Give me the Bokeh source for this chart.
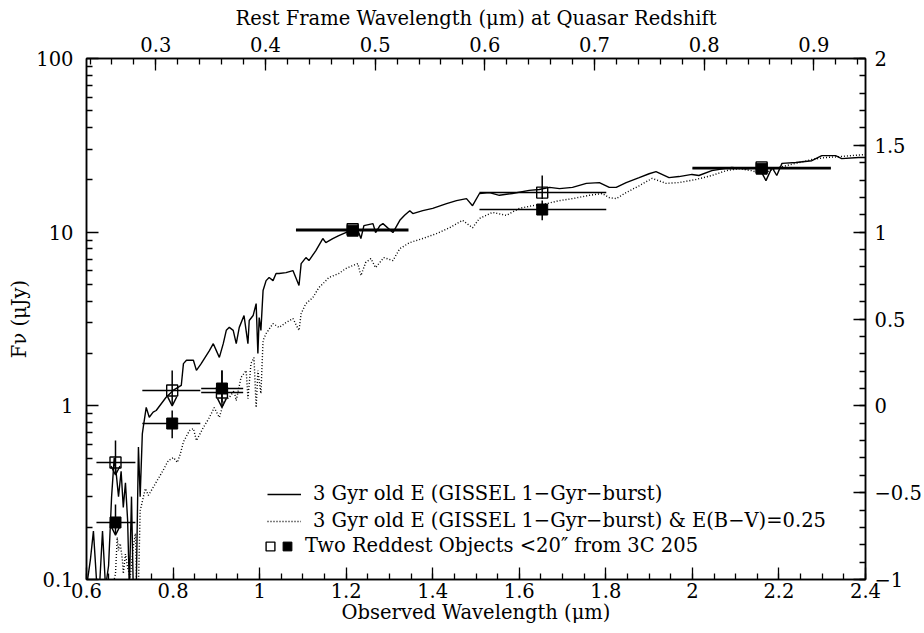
import numpy as np
from bokeh.plotting import figure
from bokeh.models import (Range1d, LinearAxis, LinearScale, FixedTicker,
                          CustomJSTickFormatter, ColumnDataSource,
                          Arrow, OpenHead, Legend, LegendItem)
from bokeh.embed import file_html
from bokeh.resources import INLINE

FONT = "DejaVu Serif"
FSIZE = "19.5px"
Z_QSO = 1.534

x_lim = (0.6, 2.4)
y_lim = (0.1, 100.0)

# ---- model spectra (observed wavelength in micron, flux in microJy) ----
solid_wave = [0.600, 0.609, 0.616, 0.623, 0.630, 0.637, 0.644, 0.651, 0.658, 0.664,
              0.669, 0.674, 0.680, 0.685, 0.690, 0.695, 0.699, 0.704, 0.708, 0.715,
              0.720, 0.724, 0.729, 0.731, 0.738, 0.745, 0.754, 0.761, 0.784, 0.801,
              0.819, 0.824, 0.831, 0.847, 0.854, 0.865, 0.884, 0.893, 0.900, 0.907,
              0.916, 0.923, 0.930, 0.939, 0.946, 0.953, 0.964, 0.973, 0.976, 0.985,
              0.992, 0.996, 0.999, 1.003, 1.008, 1.015, 1.022, 1.031, 1.038, 1.045,
              1.061, 1.077, 1.091, 1.096, 1.107, 1.114, 1.130, 1.146, 1.153, 1.169,
              1.183, 1.199, 1.215, 1.229, 1.234, 1.241, 1.262, 1.268, 1.278, 1.285,
              1.308, 1.324, 1.335, 1.347, 1.354, 1.377, 1.400, 1.432, 1.455, 1.478,
              1.492, 1.508, 1.531, 1.554, 1.584, 1.623, 1.646, 1.670, 1.693, 1.723,
              1.755, 1.785, 1.808, 1.824, 1.847, 1.877, 1.900, 1.916, 1.946, 1.969,
              1.999, 2.015, 2.045, 2.091, 2.124, 2.154, 2.170, 2.184, 2.195, 2.207,
              2.239, 2.276, 2.299, 2.331, 2.345, 2.384, 2.400]
solid_flux = [0.09, 0.13, 0.19, 0.10, 0.09, 0.19, 0.09, 0.12, 0.30, 0.50,
              0.40, 0.30, 0.42, 0.26, 0.36, 0.22, 0.09, 0.30, 0.09, 0.09,
              0.58, 0.30, 0.69, 0.75, 0.98, 0.86, 0.92, 0.94, 1.12, 1.23,
              1.31, 1.75, 1.83, 1.83, 1.60, 1.75, 2.08, 2.28, 2.08, 1.90,
              2.28, 2.72, 2.83, 2.72, 2.28, 2.83, 3.31, 2.28, 3.10, 3.31,
              3.88, 2.00, 3.22, 2.72, 4.61, 5.26, 5.48, 5.26, 5.78, 5.78,
              5.85, 6.01, 4.93, 6.59, 7.14, 6.86, 7.83, 9.19, 8.71, 9.19,
              9.55, 9.95, 10.2, 9.95, 9.19, 10.9, 11.2, 9.95, 10.9, 11.2,
              9.95, 11.7, 12.5, 13.3, 12.8, 13.3, 13.7, 14.6, 15.2, 15.6,
              14.2, 16.7, 16.9, 16.3, 16.7, 17.4, 17.6, 18.1, 17.8, 18.1,
              19.1, 19.3, 18.1, 18.1, 19.3, 20.6, 21.7, 22.3, 20.6, 20.9,
              21.5, 21.2, 22.6, 23.6, 23.2, 23.6, 19.8, 23.6, 21.2, 24.9,
              25.2, 25.8, 27.6, 27.6, 26.5, 26.9, 26.9]

dotted_wave = [0.655, 0.667, 0.671, 0.674, 0.678, 0.683, 0.685, 0.690, 0.695, 0.701,
               0.708, 0.713, 0.716, 0.720, 0.724, 0.736, 0.743, 0.754, 0.777, 0.789,
               0.801, 0.810, 0.817, 0.824, 0.838, 0.847, 0.854, 0.870, 0.884, 0.895,
               0.907, 0.918, 0.930, 0.941, 0.946, 0.957, 0.969, 0.973, 0.980, 0.987,
               0.992, 0.996, 1.003, 1.008, 1.015, 1.031, 1.045, 1.061, 1.077, 1.091,
               1.096, 1.107, 1.123, 1.137, 1.149, 1.160, 1.183, 1.199, 1.215, 1.227,
               1.234, 1.245, 1.257, 1.268, 1.287, 1.308, 1.324, 1.347, 1.377, 1.409,
               1.439, 1.469, 1.492, 1.508, 1.538, 1.570, 1.600, 1.630, 1.663, 1.693,
               1.723, 1.762, 1.792, 1.808, 1.824, 1.847, 1.877, 1.907, 1.939, 1.969,
               2.008, 2.045, 2.078, 2.107, 2.137, 2.160, 2.200, 2.239, 2.276, 2.308,
               2.338, 2.368, 2.400]
dotted_flux = [0.08, 0.108, 0.175, 0.147, 0.161, 0.129, 0.108, 0.14, 0.117, 0.103,
               0.153, 0.184, 0.09, 0.09, 0.249, 0.334, 0.305, 0.339, 0.425, 0.484,
               0.504, 0.472, 0.531, 0.62, 0.721, 0.740, 0.631, 0.750, 0.857, 0.977,
               0.857, 1.072, 1.116, 1.225, 1.072, 1.455, 1.597, 1.101, 1.753, 1.897,
               0.977, 1.597, 1.177, 2.377, 2.606, 2.977, 2.827, 3.018, 3.184, 2.715,
               3.40, 3.88, 4.20, 4.80, 5.13, 5.48, 5.78, 6.17, 6.42, 6.59,
               5.62, 6.68, 7.05, 6.25, 7.14, 6.86, 8.04, 8.71, 9.19, 9.82,
               10.6, 11.7, 10.6, 12.0, 13.0, 12.5, 13.7, 14.2, 14.6, 15.2,
               15.6, 16.3, 16.7, 15.8, 15.6, 16.9, 18.5, 20.4, 19.1, 19.3,
               20.1, 21.2, 22.6, 23.2, 22.6, 21.7, 23.6, 24.9, 26.2, 26.9,
               27.2, 27.6, 28.0]

# ---- photometry of the two reddest objects ----
open_wave = [0.667, 0.798, 0.913, 1.215, 1.653, 2.160]
open_flux = [0.472, 1.225, 1.193, 10.4, 16.9, 23.6]
open_wave_lo = [0.623, 0.729, 0.865, 1.084, 1.508, 2.000]
open_wave_hi = [0.713, 0.863, 0.962, 1.344, 1.801, 2.320]
open_flux_hi = [0.631, 1.597, 1.597, 10.8, 21.2, 24.3]
open_flux_lo = [0.40, 1.00, 0.98, 10.0, 15.5, 22.9]
open_is_limit = [True, True, True, False, False, False]

fill_wave = [0.667, 0.798, 0.913, 1.215, 1.653, 2.160]
fill_flux = [0.213, 0.791, 1.258, 10.2, 13.5, 23.2]
fill_wave_lo = [0.623, 0.729, 0.865, 1.084, 1.508, 2.000]
fill_wave_hi = [0.713, 0.863, 0.962, 1.344, 1.801, 2.320]
fill_flux_hi = [0.27, 0.94, 1.60, 10.6, 15.2, 23.9]
fill_flux_lo = [0.18, 0.65, 1.05, 9.8, 11.7, 22.5]
fill_is_limit = [True, False, False, False, False, False]

bottom_ticks = [0.6, 0.8, 1.0, 1.2, 1.4, 1.6, 1.8, 2.0, 2.2, 2.4]
left_ticks = [0.1, 1, 10, 100]
top_ticks = [0.3, 0.4, 0.5, 0.6, 0.7, 0.8, 0.9]
right_ticks = [-1, -0.5, 0, 0.5, 1, 1.5, 2]

label_model = "3 Gyr old E (GISSEL 1\u2212Gyr\u2212burst)"
label_red = "3 Gyr old E (GISSEL 1\u2212Gyr\u2212burst) & E(B\u2212V)=0.25"
label_obj = "Two Reddest Objects <20\u2033 from 3C 205"
title_top = "Rest Frame Wavelength (\u03bcm) at Quasar Redshift"
title_bottom = "Observed Wavelength (\u03bcm)"
title_left = "F\u03bd (\u03bcJy)"

# ---------------------------------------------------------------------------
p = figure(width=924, height=633, output_backend="svg", toolbar_location=None,
           x_range=Range1d(*x_lim), y_range=Range1d(*y_lim), y_axis_type="log",
           min_border_left=86, min_border_right=57, min_border_top=58,
           min_border_bottom=54, background_fill_color="white",
           border_fill_color="white")
p.grid.visible = False
p.outline_line_color = "black"
p.outline_line_width = 1.5

p.extra_x_ranges = {"rest": Range1d(x_lim[0] / (1 + Z_QSO), x_lim[1] / (1 + Z_QSO))}
p.extra_x_scales = {"rest": LinearScale()}
p.extra_y_ranges = {"logf": Range1d(np.log10(y_lim[0]), np.log10(y_lim[1]))}
p.extra_y_scales = {"logf": LinearScale()}


def style_axis(ax, size=FSIZE):
    ax.axis_line_color = "black"
    ax.axis_line_width = 1.5
    ax.major_tick_line_color = "black"
    ax.minor_tick_line_color = "black"
    ax.major_tick_line_width = 1.3
    ax.minor_tick_line_width = 1.3
    ax.major_tick_in = 12
    ax.major_tick_out = 0
    ax.minor_tick_in = 6
    ax.minor_tick_out = 0
    ax.major_label_text_font = FONT
    ax.major_label_text_font_size = size
    ax.major_label_text_color = "black"
    ax.axis_label_text_font = FONT
    ax.axis_label_text_font_size = size
    ax.axis_label_text_font_style = "normal"
    ax.axis_label_text_color = "black"


fmt_dec = CustomJSTickFormatter(code="return String(Math.round(tick*10)/10);")
fmt_log = CustomJSTickFormatter(code="return String(Number(tick.toPrecision(2)));")
fmt_sign = CustomJSTickFormatter(
    code="const v = Math.round(tick*10)/10; return v < 0 ? '\u2212' + String(-v) : String(v);")

xb = p.xaxis[0]
style_axis(xb)
xb.ticker = FixedTicker(ticks=bottom_ticks,
                        minor_ticks=[round(v, 2) for v in np.arange(0.6, 2.401, 0.05)])
xb.formatter = fmt_dec
xb.axis_label = title_bottom
xb.major_label_standoff = 3
xb.axis_label_standoff = 0

yl = p.yaxis[0]
style_axis(yl)
yl.ticker = FixedTicker(ticks=left_ticks,
                        minor_ticks=[k * 10.0 ** e for e in (-1, 0, 1) for k in range(2, 10)])
yl.formatter = fmt_log
yl.major_label_standoff = 13
yl.axis_label = title_left
yl.axis_label_standoff = 2

ax_top = LinearAxis(x_range_name="rest")
style_axis(ax_top)
ax_top.ticker = FixedTicker(ticks=top_ticks,
                            minor_ticks=[round(v, 2) for v in np.arange(0.24, 0.95, 0.02)])
ax_top.formatter = fmt_dec
ax_top.axis_label = title_top
ax_top.major_label_standoff = 7
ax_top.axis_label_standoff = 4
p.add_layout(ax_top, "above")

ax_right = LinearAxis(y_range_name="logf")
style_axis(ax_right)
ax_right.ticker = FixedTicker(ticks=right_ticks,
                              minor_ticks=[round(v, 1) for v in np.arange(-1.0, 2.01, 0.1)])
ax_right.formatter = fmt_sign
ax_right.major_label_standoff = 9
p.add_layout(ax_right, "right")

# model spectra
solid_r = p.line(solid_wave, solid_flux, line_color="black", line_width=1.4)
dotted_r = p.line(dotted_wave, dotted_flux, line_color="black", line_width=1.4,
                  line_dash="1 2")


# error bars and points
def draw_object(wave, flux, wlo, whi, fhi, flo, is_lim, filled):
    wave = np.array(wave); flux = np.array(flux)
    wlo = np.array(wlo); whi = np.array(whi)
    fhi = np.array(fhi); flo = np.array(flo); lim = np.array(is_lim)
    p.segment(x0=wlo, y0=flux, x1=whi, y1=flux, line_color="black", line_width=1.5)
    det = ~lim
    p.segment(x0=wave[det], y0=flo[det], x1=wave[det], y1=fhi[det],
              line_color="black", line_width=1.5)
    p.segment(x0=wave[lim], y0=fhi[lim], x1=wave[lim], y1=flux[lim],
              line_color="black", line_width=1.5)
    src = ColumnDataSource(dict(x=wave[lim], y0=flux[lim], y1=flo[lim]))
    p.add_layout(Arrow(end=OpenHead(size=9, line_width=1.4, line_color="black"),
                       x_start="x", y_start="y0", x_end="x", y_end="y1",
                       source=src, line_width=1.5, line_color="black"))
    if filled:
        return p.scatter(wave, flux, marker="square", size=11, fill_color="black",
                         line_color="black", line_width=1.0)
    return p.scatter(wave, flux, marker="square", size=11, fill_alpha=0,
                     line_color="black", line_width=1.4)


open_r = draw_object(open_wave, open_flux, open_wave_lo, open_wave_hi,
                     open_flux_hi, open_flux_lo, open_is_limit, False)
fill_r = draw_object(fill_wave, fill_flux, fill_wave_lo, fill_wave_hi,
                     fill_flux_hi, fill_flux_lo, fill_is_limit, True)

# legends
common = dict(padding=0, margin=0, border_line_alpha=0, background_fill_alpha=0,
              label_text_font=FONT, label_text_font_size=FSIZE,
              label_text_color="black", label_height=20)
leg1 = Legend(items=[LegendItem(label=label_model, renderers=[solid_r]),
                     LegendItem(label=label_red, renderers=[dotted_r])],
              location=(181, 47), glyph_width=34, glyph_height=20,
              label_standoff=12, spacing=4, **common)
leg2 = Legend(items=[LegendItem(label=" ", renderers=[open_r])],
              location=(173, 22), glyph_width=22, glyph_height=22,
              label_standoff=0, **common)
leg3 = Legend(items=[LegendItem(label=label_obj, renderers=[fill_r])],
              location=(190, 22), glyph_width=22, glyph_height=22,
              label_standoff=7, **common)
for lg in (leg1, leg2, leg3):
    p.add_layout(lg, "center")

open("out.html", "w").write(file_html(p, INLINE))
